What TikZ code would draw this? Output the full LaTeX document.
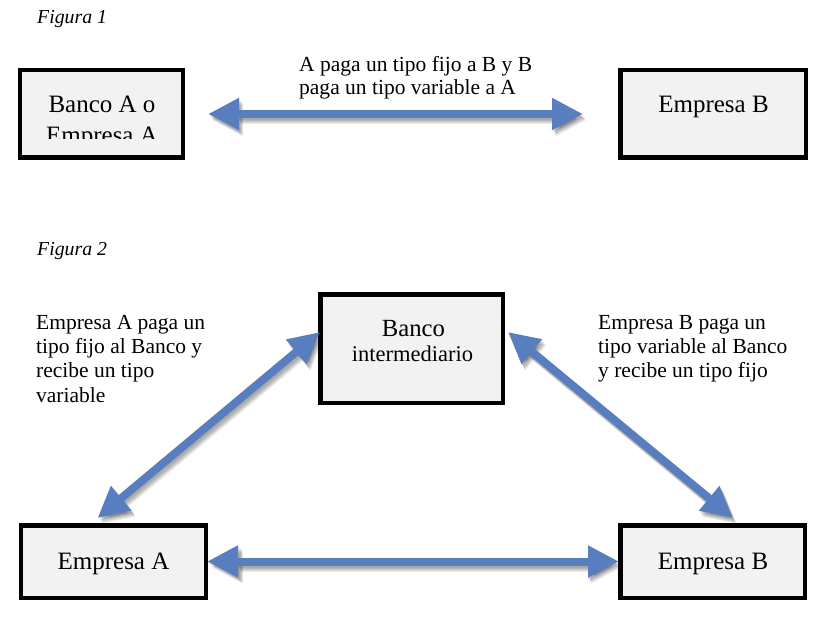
\documentclass[tikz,border=0pt]{standalone}
\usepackage{fontspec}
\setmainfont{Liberation Serif}
\usetikzlibrary{arrows.meta,calc}
\definecolor{arrowblue}{RGB}{88,126,192}
\definecolor{boxfill}{RGB}{242,242,242}
\begin{document}
\begin{tikzpicture}[x=1bp,y=-1bp,
  box/.style={draw=black,line width=4.5bp,fill=boxfill,inner sep=0pt},
  boxtext/.style={anchor=base,inner sep=0pt,font=\fontsize{25bp}{30bp}\selectfont},
  caption/.style={anchor=base west,inner sep=0pt,font=\fontsize{21.5bp}{24bp}\selectfont},
  figlabel/.style={anchor=base west,inner sep=0pt,font=\fontsize{19.8bp}{24bp}\selectfont\itshape},
  blockarrow/.style={line width=8bp,arrowblue,{Triangle[length=31bp,width=30bp]}-{Triangle[length=31bp,width=30bp]}},
  shadowA/.style={line width=8bp,black,opacity=0.08,{Triangle[length=31bp,width=30bp]}-{Triangle[length=31bp,width=30bp]}},
]
\useasboundingbox (0,0) rectangle (821,620);

% labels
\node[figlabel] (fig1) at (37,24) {Figura 1};
\node[figlabel] (fig2) at (37,255) {Figura 2};

% Figura 1 boxes
\node[box,minimum width=162.5bp,minimum height=87.5bp] (b1) at (101.5,114) {};
\node[box,minimum width=185.5bp,minimum height=87.5bp] (b2) at (713,114) {};
\node[boxtext] (b1t1) at (102,113) {Banco A o};
\begin{scope}
  \clip (22,72) rectangle (181,138.5);
  \node[boxtext] (b1t2) at (102,143.5) {Empresa A};
\end{scope}
\node[boxtext] (b2t) at (713.5,113) {Empresa B};

\node[caption] (cap1a) at (299,72) {A paga un tipo fijo a B y B};
\node[caption] (cap1b) at (299,95) {paga un tipo variable a A};

% Figura 2 boxes
\node[box,minimum width=182.5bp,minimum height=108.5bp] (ban) at (411.5,348.5) {};
\node[anchor=base,inner sep=0pt,font=\fontsize{24.7bp}{30bp}\selectfont] (bant1) at (413.5,336) {Banco};
\node[anchor=base,inner sep=0pt,font=\fontsize{22.5bp}{30bp}\selectfont] (bant2) at (412.5,361) {intermediario};

\node[box,minimum width=184.5bp,minimum height=72.5bp] (ea) at (113.5,561.5) {};
\node[box,minimum width=184.5bp,minimum height=72.5bp] (eb) at (712.5,561.5) {};
\node[boxtext] (eat) at (113.5,569.5) {Empresa A};
\node[boxtext] (ebt) at (713,569.5) {Empresa B};

\node[caption] (capl1) at (36,329) {Empresa A paga un};
\node[caption] (capl2) at (36,353.3) {tipo fijo al Banco y};
\node[caption] (capl3) at (36,377.6) {recibe un tipo};
\node[caption] (capl4) at (36,402) {variable};

\node[caption] (capr1) at (598,329) {Empresa B paga un};
\node[caption] (capr2) at (598,353.3) {tipo variable al Banco};
\node[caption] (capr3) at (598,377.6) {y recibe un tipo fijo};

% coordinates for diagonal arrow tips
\coordinate (dlA) at ($(ea.north)+(-16,-5)$);
\coordinate (dlB) at ($(ban.west)+(2,-16.5)$);
\coordinate (drA) at ($(ban.east)+(3,-16.5)$);
\coordinate (drB) at ($(eb.north)+(20.5,-5)$);

% soft shadows
\foreach \dx/\dy in {1/2,2/3,3/4,3/5,4/6}{
  \draw[shadowA,shorten <=23bp,shorten >=35bp] ([shift={(\dx,\dy)}]b1.east) -- ([shift={(\dx,\dy)}]b2.west);
  \draw[shadowA] ([shift={(\dx,\dy)}]ea.east) -- ([shift={(\dx,\dy)}]eb.west);
  \draw[shadowA] ([shift={(\dx,\dy)}]dlA) -- ([shift={(\dx,\dy)}]dlB);
  \draw[shadowA] ([shift={(\dx,\dy)}]drA) -- ([shift={(\dx,\dy)}]drB);
}

% arrows
\draw[blockarrow,shorten <=23bp,shorten >=35bp] (b1.east) -- (b2.west);
\draw[blockarrow,shorten <=-1bp,shorten >=-1bp] (ea.east) -- (eb.west);
\draw[blockarrow] (dlA) -- (dlB);
\draw[blockarrow] (drA) -- (drB);
\end{tikzpicture}
\end{document}
